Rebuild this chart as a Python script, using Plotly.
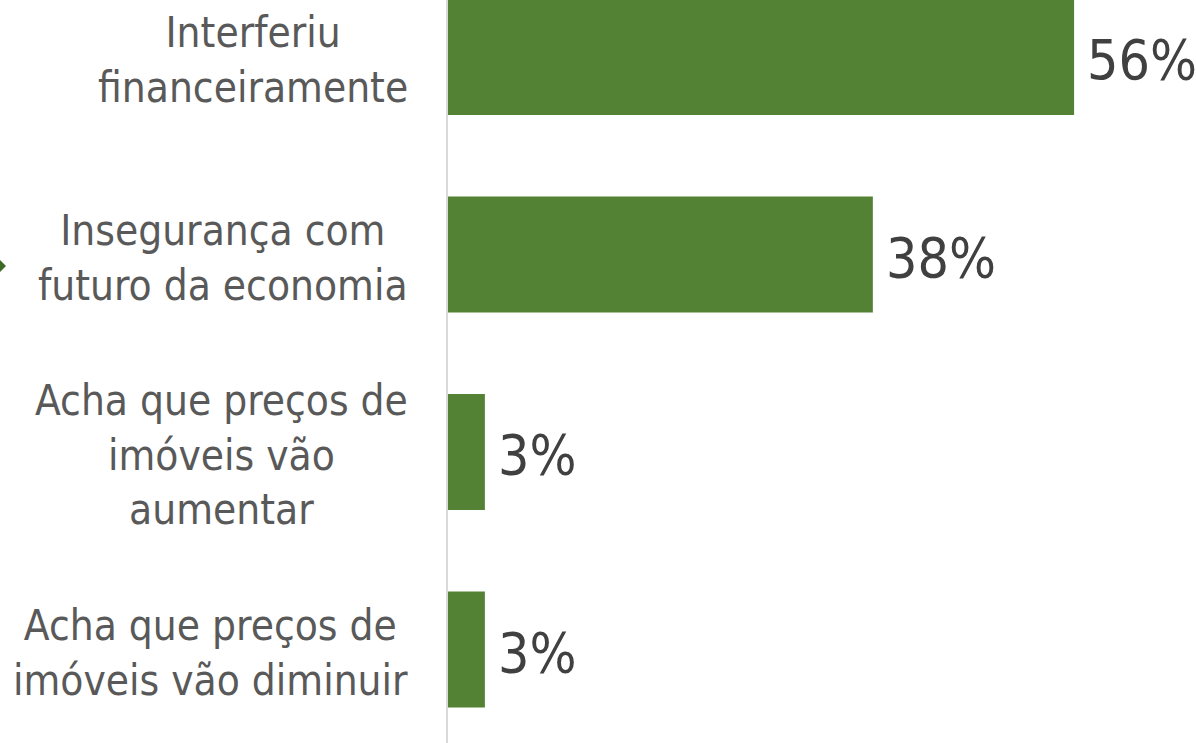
import plotly.graph_objects as go

categories = [
    "Interferiu<br>financeiramente",
    "Insegurança com<br>futuro da economia",
    "Acha que preços de<br>imóveis vão<br>aumentar",
    "Acha que preços de<br>imóveis vão diminuir",
]
values = [56, 38, 3.3, 3.3]
value_labels = ["56%", "38%", "3%", "3%"]

BAR_COLOR = "#548235"
LABEL_FONT = "DejaVu Sans Condensed, DejaVu Sans, sans-serif"

fig = go.Figure()
fig.add_trace(go.Bar(
    x=values,
    y=categories,
    orientation="h",
    marker=dict(color=BAR_COLOR, line=dict(width=0)),
    hoverinfo="skip",
))

annotations = []
for cat, v, lab in zip(categories, values, value_labels):
    annotations.append(dict(
        x=v, y=cat, xref="x", yref="y", text=lab, showarrow=False,
        xanchor="left", yanchor="middle", xshift=11, yshift=-3,
        font=dict(family=LABEL_FONT, size=55, color="#404040"),
    ))
    annotations.append(dict(
        x=0, y=cat, xref="paper", yref="y", text=cat, showarrow=False,
        xanchor="right", yanchor="middle", xshift=-38, yshift=-3, align="center",
        font=dict(family=LABEL_FONT, size=42, color="#595959"),
    ))

W, H, L = 1196, 743, 448
plot_w = W - L
shapes = [dict(
    type="path", xref="paper", yref="paper",
    path="M {:.5f},{:.5f} L {:.5f},{:.5f} L {:.5f},{:.5f} Z".format(
        (-2 - L) / plot_w, 1 - 258 / H,
        (6 - L) / plot_w, 1 - 266 / H,
        (-2 - L) / plot_w, 1 - 274 / H),
    fillcolor="#3b6b25", line=dict(width=0),
)]

fig.update_layout(
    width=W, height=H,
    margin=dict(l=L, r=0, t=0, b=0),
    paper_bgcolor="white", plot_bgcolor="white",
    bargap=0.413,
    showlegend=False,
    annotations=annotations,
    shapes=shapes,
    xaxis=dict(range=[0, plot_w / 11.18], visible=False, showgrid=False, zeroline=False),
    yaxis=dict(
        categoryorder="array", categoryarray=categories,
        range=[(H - 57) / 197.5, -57 / 197.5],
        showticklabels=False, showgrid=False, zeroline=False,
        showline=True, linecolor="#d9d9d9", linewidth=2, ticks="",
    ),
)

fig.write_html(
    "out.html",
    config={"displayModeBar": False},
    post_script="document.body.style.margin='0';document.body.style.overflow='hidden';",
)
